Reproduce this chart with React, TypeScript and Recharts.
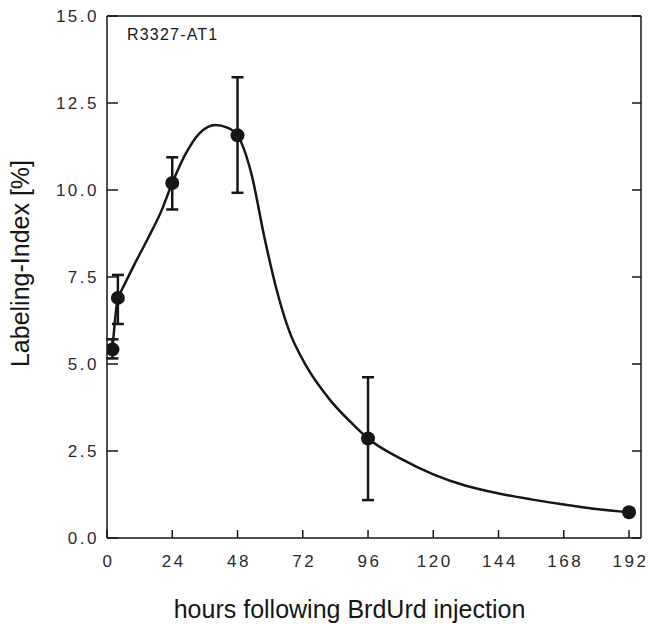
import React from "react";
import {
  ComposedChart,
  Line,
  Scatter,
  ErrorBar,
  XAxis,
  YAxis,
} from "recharts";

// measured points (hours after injection, labeling index %)
const hours = [2, 4, 24, 48, 96, 192];
const labelingIndex = [5.42, 6.9, 10.2, 11.57, 2.86, 0.74];
const errLow = [0.26, 0.75, 0.76, 1.65, 1.77, 0];
const errHigh = [0.29, 0.66, 0.74, 1.67, 1.76, 0];

// fitted curve
const fitHours = [2, 4, 5, 10, 15, 20, 24, 29, 34, 40, 44, 48, 53, 58, 62, 67, 73, 82, 90, 96, 108, 120, 132, 144, 156, 168, 180, 192];
const fitValues = [5.42, 6.9, 7.06, 7.85, 8.6, 9.4, 10.2, 11.05, 11.63, 11.87, 11.8, 11.57, 10.5, 8.6, 7.25, 5.95, 4.98, 3.97, 3.3, 2.86, 2.28, 1.83, 1.5, 1.28, 1.11, 0.96, 0.83, 0.74];

const xTicks = [0, 24, 48, 72, 96, 120, 144, 168, 192];
const yTicks = [0, 2.5, 5, 7.5, 10, 12.5, 15];

const points = hours.map((x, i) => ({
  x,
  y: labelingIndex[i],
  err: [errLow[i], errHigh[i]],
}));
const fit = fitHours.map((x, i) => ({ x, y: fitValues[i] }));

const ink = "#161616";
const font = "'Liberation Sans', Arial, sans-serif";
const X_GAP = 17; // axis line -> top of tick label
const Y_GAP = 10; // axis line -> end of tick label

function BottomTick(p: any) {
  const ax = Number(p.y) - X_GAP;
  const x = Number(p.x);
  return (
    <g>
      <path d={`M${x},${ax}V${ax - 8}`} stroke={ink} strokeWidth={1.5} fill="none" />
      <text
        x={x + 1.5}
        y={p.y}
        dy="0.71em"
        textAnchor="middle"
        fontSize={17}
        fontFamily={font}
        letterSpacing={2.5}
        fill="#2a2a2a"
      >
        {p.payload.value}
      </text>
    </g>
  );
}

function LeftTick(p: any) {
  const ax = Number(p.x) + Y_GAP;
  const y = Number(p.y);
  return (
    <g>
      <path d={`M${ax},${y}H${ax + 11}`} stroke={ink} strokeWidth={1.5} fill="none" />
      <text
        x={Number(p.x) + 2}
        y={y}
        dy="0.36em"
        textAnchor="end"
        fontSize={17}
        fontFamily={font}
        letterSpacing={2.5}
        fill="#2a2a2a"
      >
        {p.payload.value.toFixed(1)}
      </text>
    </g>
  );
}

function RightTick(p: any) {
  const x = Number(p.x);
  const y = Number(p.y);
  return <path d={`M${x},${y}H${x - 9}`} stroke={ink} strokeWidth={1.5} fill="none" />;
}

export default function App() {
  return (
    <div style={{ position: "absolute", left: 0, top: 0, background: "#fff" }}>
      <ComposedChart
        width={649}
        height={624}
        margin={{ top: 15, right: 7, bottom: 56, left: 47 }}
      >
        <XAxis
          xAxisId="b"
          dataKey="x"
          type="number"
          domain={[0, 196.4]}
          ticks={xTicks}
          allowDataOverflow
          height={30}
          stroke={ink}
          strokeWidth={1.5}
          tickLine={false}
          tickSize={0}
          tickMargin={X_GAP}
          tick={<BottomTick />}
          label={{
            content: (p: any) => {
              const vb = p.viewBox;
              return (
                <text
                  x={vb.x + vb.width / 2 - 24.5}
                  y={vb.y + vb.height + 50}
                  textAnchor="middle"
                  fontSize={25}
                  fontFamily={font}
                  fill={ink}
                >
                  hours following BrdUrd injection
                </text>
              );
            },
          }}
        />
        <XAxis
          xAxisId="t"
          orientation="top"
          type="number"
          domain={[0, 196.4]}
          height={1}
          stroke={ink}
          strokeWidth={1.5}
          tick={false}
          tickLine={false}
          label={{
            content: (p: any) => {
              const vb = p.viewBox;
              return (
                <text
                  x={vb.x + 20}
                  y={vb.y + 25}
                  fontSize={16}
                  fontFamily={font}
                  letterSpacing={1.2}
                  fill={ink}
                >
                  R3327-AT1
                </text>
              );
            },
          }}
        />
        <YAxis
          yAxisId="l"
          type="number"
          domain={[0, 15]}
          ticks={yTicks}
          width={60}
          stroke={ink}
          strokeWidth={1.5}
          tickLine={false}
          tickSize={0}
          tickMargin={Y_GAP}
          tick={<LeftTick />}
          label={{
            content: (p: any) => {
              const vb = p.viewBox;
              const cx = vb.x - 18;
              const cy = vb.y + vb.height / 2 - 13.5;
              return (
                <text
                  x={cx}
                  y={cy}
                  transform={`rotate(-90, ${cx}, ${cy})`}
                  textAnchor="middle"
                  fontSize={25}
                  fontFamily={font}
                  fill={ink}
                >
                  Labeling-Index [%]
                </text>
              );
            },
          }}
        />
        <YAxis
          yAxisId="r"
          orientation="right"
          type="number"
          domain={[0, 15]}
          ticks={yTicks}
          width={1}
          stroke={ink}
          strokeWidth={1.5}
          tickLine={false}
          tickSize={0}
          tickMargin={0}
          tick={<RightTick />}
        />
        <Line
          xAxisId="b"
          yAxisId="r"
          data={fit}
          dataKey="y"
          type="monotone"
          stroke={ink}
          strokeWidth={2.5}
          dot={false}
          isAnimationActive={false}
        />
        <Scatter
          xAxisId="b"
          yAxisId="l"
          data={points}
          dataKey="y"
          fill={ink}
          isAnimationActive={false}
          shape={(p: any) => <circle cx={p.cx} cy={p.cy} r={7} fill={ink} />}
        >
          <ErrorBar
            dataKey="err"
            direction="y"
            width={6}
            stroke={ink}
            strokeWidth={2.5}
            isAnimationActive={false}
          />
        </Scatter>
      </ComposedChart>
    </div>
  );
}
